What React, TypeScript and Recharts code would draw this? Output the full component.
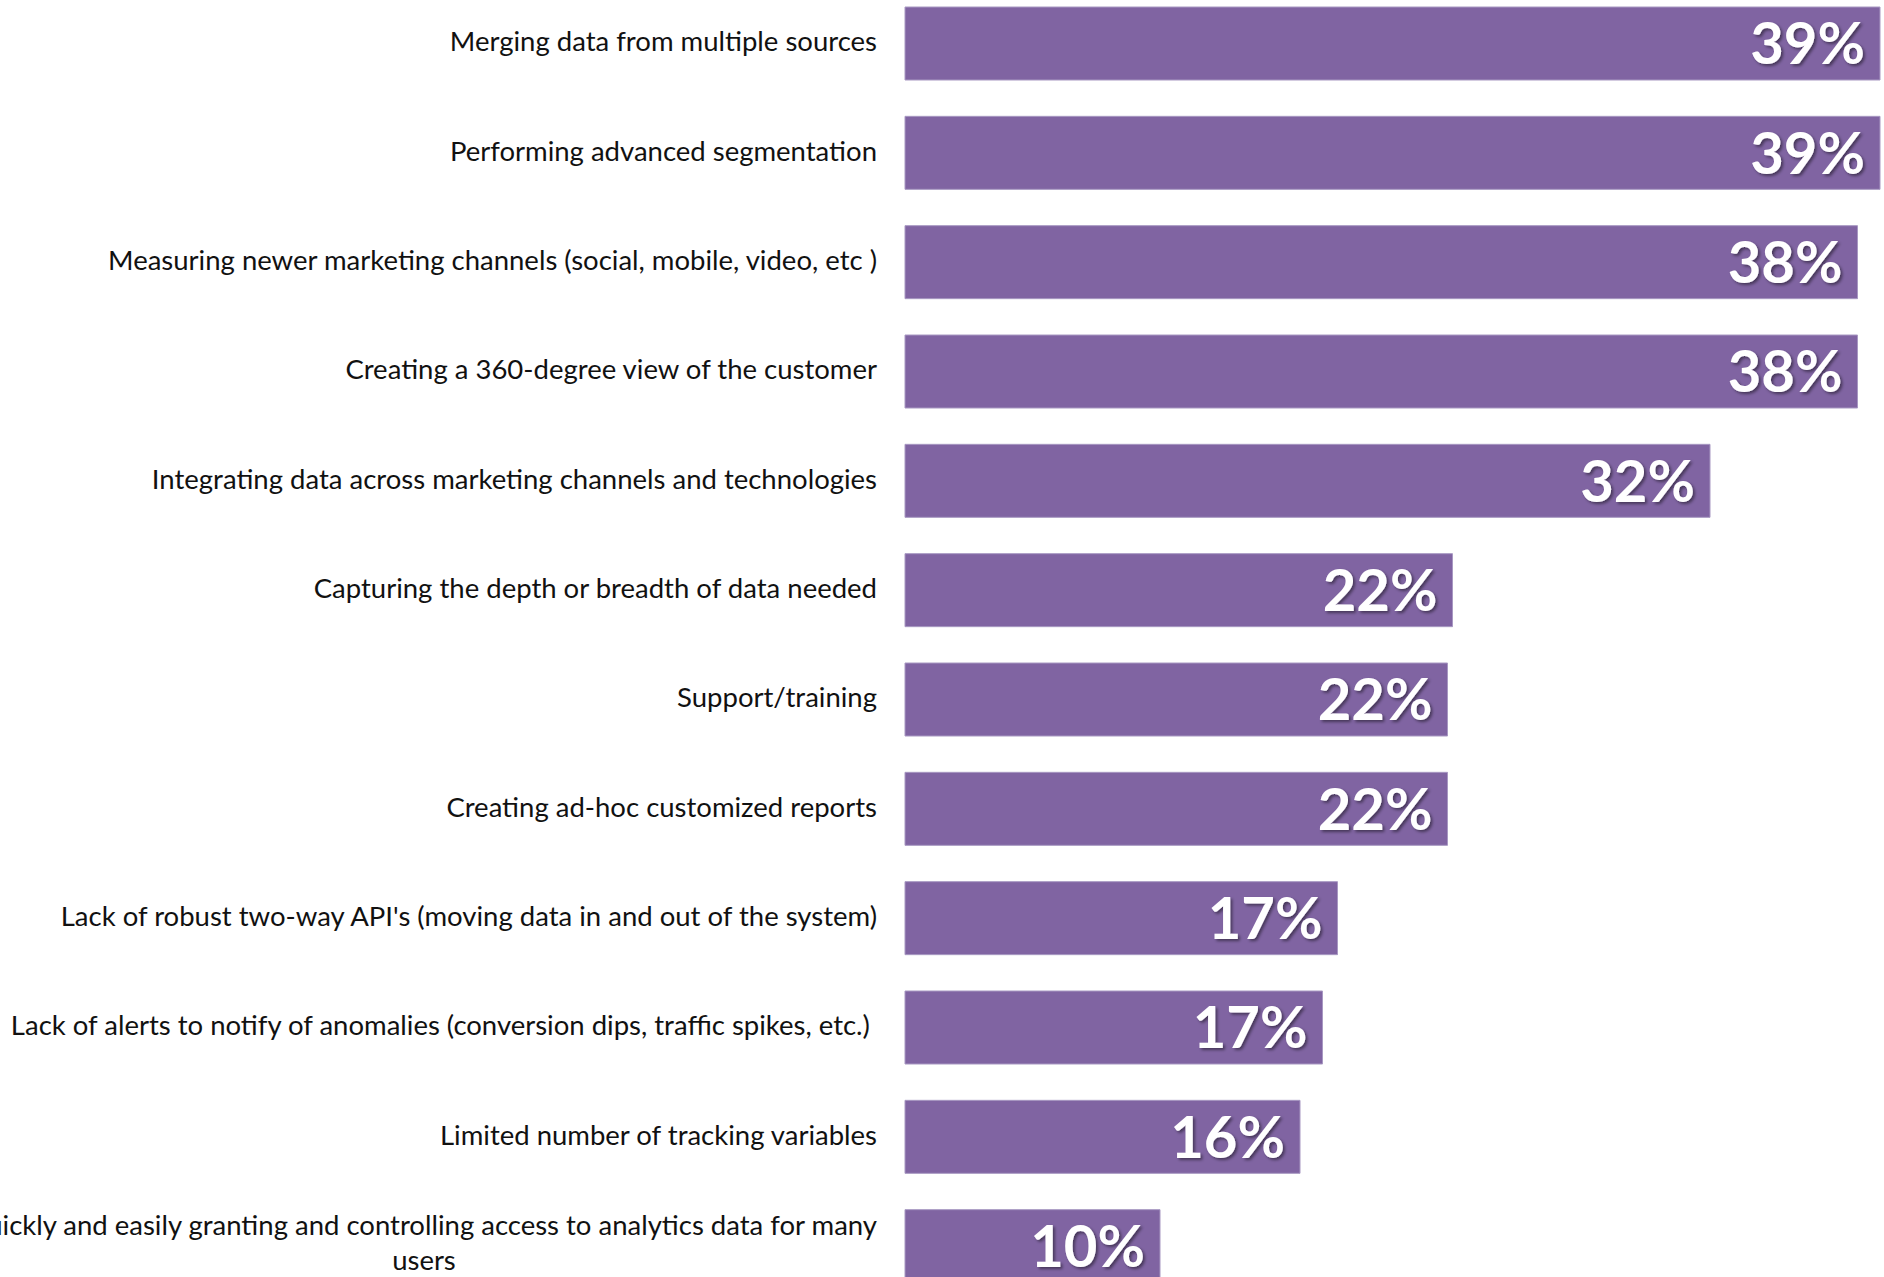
import { BarChart, Bar, XAxis, YAxis, LabelList } from "recharts";

const categories = [
  "Merging data from multiple sources",
  "Performing advanced segmentation",
  "Measuring newer marketing channels (social, mobile, video, etc )",
  "Creating a 360-degree view of the customer",
  "Integrating data across marketing channels and technologies",
  "Capturing the depth or breadth of data needed",
  "Support/training",
  "Creating ad-hoc customized reports",
  "Lack of robust two-way API's (moving data in and out of the system)",
  "Lack of alerts to notify of anomalies (conversion dips, traffic spikes, etc.) ",
  "Limited number of tracking variables",
  "Quickly and easily granting and controlling access to analytics data for many\nusers",
];

const values = [39.0, 39.0, 38.1, 38.1, 32.2, 21.9, 21.7, 21.7, 17.3, 16.7, 15.8, 10.2];

const data = categories.map((name, i) => ({ name, value: values[i] }));

const PURPLE = "#8064A2";
const LABEL_FONT = "Lato, 'Noto Sans', sans-serif";
const TICK_SIZE = 27.5;

function CategoryTick({ x, y, payload }: any) {
  const lines = String(payload.value).split("\n");
  if (lines.length === 1) {
    return (
      <text
        x={x}
        y={y}
        dy="0.28em"
        textAnchor="end"
        fontFamily={LABEL_FONT}
        fontSize={TICK_SIZE}
        fill="#111"
        xmlSpace="preserve"
      >
        {lines[0]}
      </text>
    );
  }
  // wrapped label: centred block, first line overflowing to the left
  return (
    <g>
      <text x={x} y={y - 20} dy="0.3em" textAnchor="end" fontFamily={LABEL_FONT} fontSize={TICK_SIZE} fill="#111">
        {lines[0]}
      </text>
      <text x={x - 453} y={y + 15} dy="0.3em" textAnchor="middle" fontFamily={LABEL_FONT} fontSize={TICK_SIZE} fill="#111">
        {lines[1]}
      </text>
    </g>
  );
}

function ValueLabel({ x, y, width, height, value }: any) {
  return (
    <text
      x={x + width - 15}
      y={y + height / 2}
      dy="0.36em"
      textAnchor="end"
      fontFamily={LABEL_FONT}
      fontWeight={700}
      fontSize={58}
      fill="#fff"
      filter="url(#labelShadow)"
    >
      {Math.round(value)}%
    </text>
  );
}

export default function App() {
  return (
    <div
      style={{
        position: "fixed",
        left: 0,
        top: 0,
        width: 1884,
        height: 1277,
        overflow: "hidden",
        background: "#fff",
      }}
    >
      <div style={{ position: "absolute", left: 0, top: -11 }}>
        <BarChart
          width={1884}
          height={1312}
          data={data}
          layout="vertical"
          margin={{ top: 0, right: 4, bottom: 0, left: 0 }}
        >
          <defs>
            <filter id="labelShadow" x="-20%" y="-20%" width="140%" height="140%">
              <feDropShadow dx="2" dy="2" stdDeviation="1.5" floodColor="#000" floodOpacity="0.45" />
            </filter>
          </defs>
          <XAxis type="number" domain={[0, 39]} hide />
          <YAxis
            type="category"
            dataKey="name"
            width={905}
            axisLine={false}
            tickLine={false}
            tickSize={0}
            tickMargin={28}
            interval={0}
            tick={<CategoryTick />}
          />
          <Bar
            dataKey="value"
            fill={PURPLE}
            stroke="#A898C2"
            strokeWidth={1}
            barSize={73}
            isAnimationActive={false}
          >
            <LabelList dataKey="value" content={<ValueLabel />} />
          </Bar>
        </BarChart>
      </div>
    </div>
  );
}
